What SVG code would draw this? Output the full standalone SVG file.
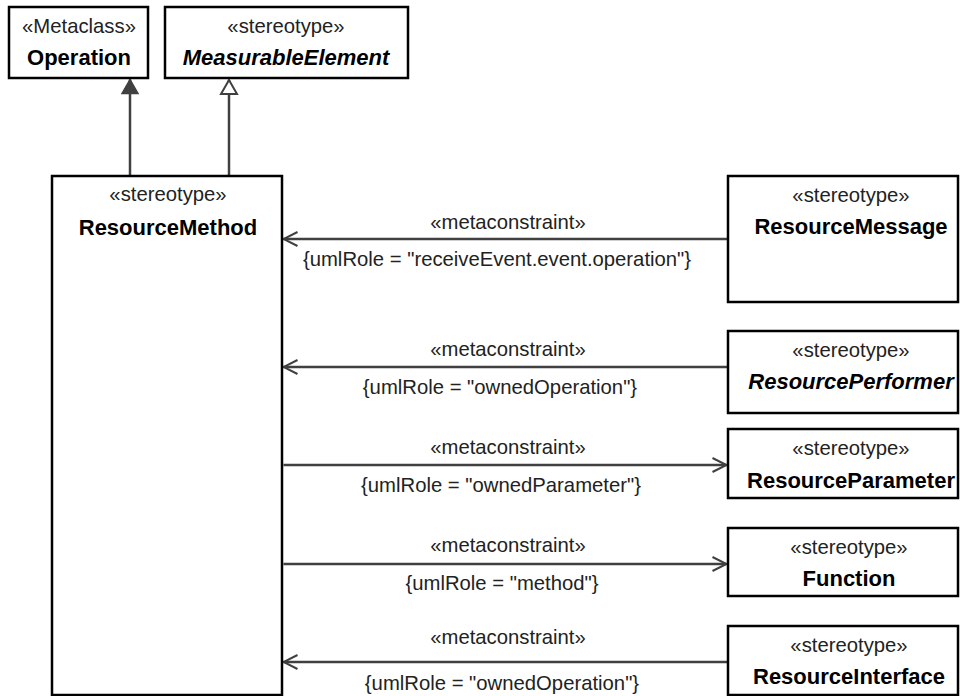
<svg xmlns="http://www.w3.org/2000/svg" width="960" height="696" viewBox="0 0 960 696">
<style>
  .box { fill: #fff; stroke: #000; stroke-width: 2.5; }
  .st { font-family: "Liberation Sans", Arial, sans-serif; font-size: 20.3px; fill: #222; text-anchor: middle; }
  .nm { font-family: "Liberation Sans", Arial, sans-serif; font-size: 22px; font-weight: bold; fill: #000; text-anchor: middle; }
  .it { font-style: italic; }
  .lbl { font-family: "Liberation Sans", Arial, sans-serif; font-size: 20.3px; fill: #222; text-anchor: middle; }
  .conn { stroke: #404040; stroke-width: 2.5; fill: none; }
</style>
<defs>
  <marker id="open" markerUnits="userSpaceOnUse" markerWidth="20" markerHeight="20" viewBox="-18 -10 20 20" refX="0" refY="0" orient="auto">
    <path d="M-14,-7 L0,0 L-14,7" fill="none" stroke="#404040" stroke-width="2"/>
  </marker>
  <marker id="filled" markerUnits="userSpaceOnUse" markerWidth="20" markerHeight="20" viewBox="-18 -10 20 20" refX="0" refY="0" orient="auto">
    <path d="M0,0 L-14,-8 L-14,8 Z" fill="#404040" stroke="#404040" stroke-width="1.5"/>
  </marker>
  <marker id="hollow" markerUnits="userSpaceOnUse" markerWidth="20" markerHeight="20" viewBox="-18 -10 20 20" refX="0" refY="0" orient="auto">
    <path d="M0,0 L-14,-8 L-14,8 Z" fill="#fff" stroke="#404040" stroke-width="2"/>
  </marker>
</defs>
<rect width="960" height="696" fill="#fff"/>

<g id="connectors">
  <line class="conn" x1="130" y1="176" x2="130" y2="79.5" marker-end="url(#filled)"/>
  <line class="conn" x1="229" y1="176" x2="229" y2="80" marker-end="url(#hollow)"/>
  <line class="conn" x1="728" y1="239" x2="283.5" y2="239" marker-end="url(#open)"/>
  <line class="conn" x1="728" y1="367" x2="283.5" y2="367" marker-end="url(#open)"/>
  <line class="conn" x1="283.5" y1="465" x2="726.5" y2="465" marker-end="url(#open)"/>
  <line class="conn" x1="283.5" y1="564" x2="726.5" y2="564" marker-end="url(#open)"/>
  <line class="conn" x1="728" y1="662" x2="283.5" y2="662" marker-end="url(#open)"/>
  <text class="lbl" x="508" y="229">«metaconstraint»</text>
  <text class="lbl" x="497" y="266">{umlRole = "receiveEvent.event.operation"}</text>
  <text class="lbl" x="508" y="356">«metaconstraint»</text>
  <text class="lbl" x="500" y="394">{umlRole = "ownedOperation"}</text>
  <text class="lbl" x="508" y="454">«metaconstraint»</text>
  <text class="lbl" x="501" y="492">{umlRole = "ownedParameter"}</text>
  <text class="lbl" x="508" y="552">«metaconstraint»</text>
  <text class="lbl" x="502" y="590">{umlRole = "method"}</text>
  <text class="lbl" x="508" y="644">«metaconstraint»</text>
  <text class="lbl" x="502" y="690">{umlRole = "ownedOperation"}</text>
</g>

<g id="Operation">
  <rect class="box" x="9" y="7" width="139" height="71"/>
  <text class="st" x="79" y="33">«Metaclass»</text>
  <text class="nm" x="79" y="65">Operation</text>
</g>
<g id="MeasurableElement">
  <rect class="box" x="165" y="7" width="243" height="71"/>
  <text class="st" x="286" y="33">«stereotype»</text>
  <text class="nm it" x="286" y="65">MeasurableElement</text>
</g>
<g id="ResourceMethod">
  <rect class="box" x="52" y="176" width="230" height="519"/>
  <text class="st" x="168" y="201">«stereotype»</text>
  <text class="nm" x="168" y="235">ResourceMethod</text>
</g>
<g id="ResourceMessage">
  <rect class="box" x="728" y="176" width="230" height="126"/>
  <text class="st" x="851" y="202">«stereotype»</text>
  <text class="nm" x="851" y="234">ResourceMessage</text>
</g>
<g id="ResourcePerformer">
  <rect class="box" x="728" y="331" width="230" height="82"/>
  <text class="st" x="851" y="357">«stereotype»</text>
  <text class="nm it" x="851" y="389">ResourcePerformer</text>
</g>
<g id="ResourceParameter">
  <rect class="box" x="728" y="429" width="230" height="69"/>
  <text class="st" x="851" y="455">«stereotype»</text>
  <text class="nm" x="851" y="488">ResourceParameter</text>
</g>
<g id="Function">
  <rect class="box" x="728" y="528" width="230" height="68"/>
  <text class="st" x="849" y="554">«stereotype»</text>
  <text class="nm" x="849" y="586">Function</text>
</g>
<g id="ResourceInterface">
  <rect class="box" x="728" y="626" width="230" height="69"/>
  <text class="st" x="849" y="652">«stereotype»</text>
  <text class="nm" x="849" y="684">ResourceInterface</text>
</g>
</svg>
